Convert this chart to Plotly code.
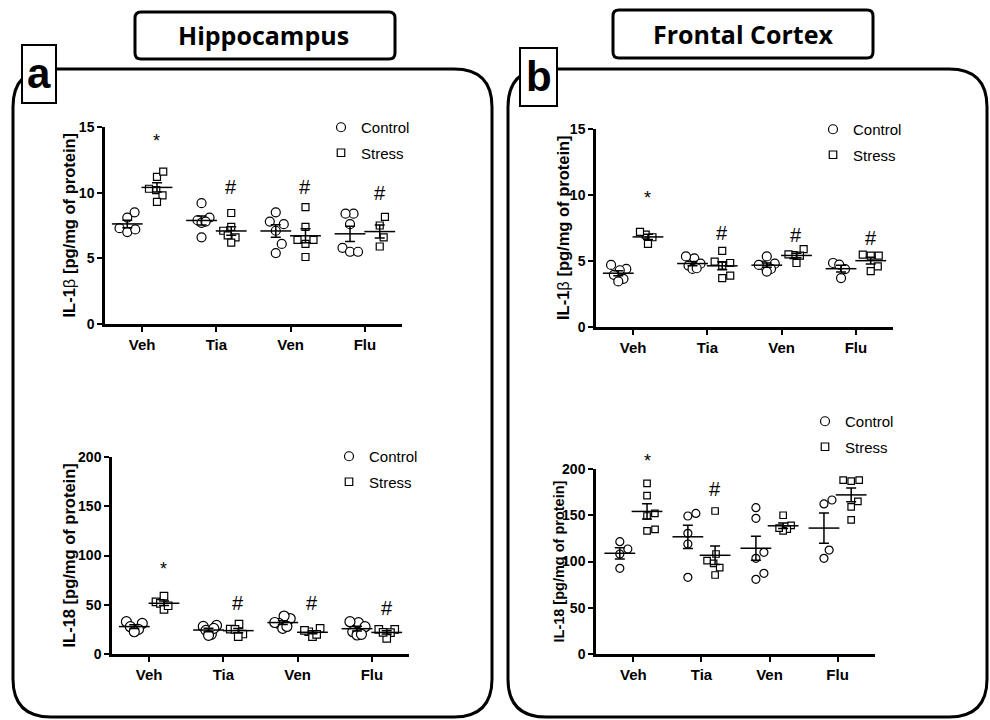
import math
import numpy as np
import plotly.graph_objects as go

# ---------------- data ----------------
categories = ["Veh", "Tia", "Ven", "Flu"]

hip_il1b_control = [[8.5, 8.1, 7.3, 7.0, 7.2],
                    [9.2, 8.1, 7.9, 7.7, 7.8, 6.6],
                    [8.5, 7.6, 7.8, 7.1, 6.1, 5.4],
                    [8.4, 8.4, 7.6, 5.8, 5.5, 5.5]]
hip_il1b_stress = [[11.2, 11.6, 10.2, 10.3, 9.8, 9.3],
                   [8.45, 7.4, 7.1, 6.75, 6.6, 6.2],
                   [8.9, 7.4, 6.4, 6.4, 6.1, 5.1],
                   [8.15, 7.5, 6.6, 5.9]]
hip_il1b_sig = ["*", "#", "#", "#"]
hip_il1b_sig_y = [13.9, 10.4, 10.4, 10.0]

hip_il18_control = [[31, 32.8, 25, 27.7, 22.6],
                    [28, 29, 20, 24, 26, 19],
                    [36, 38.5, 31, 32, 26, 28],
                    [31.8, 32.8, 27.7, 22.6, 19.3, 20]]
hip_il18_stress = [[58.8, 53, 51.4, 45.3, 49],
                   [30.4, 25.3, 25, 20.3, 17.6],
                   [22.6, 17.6, 26, 20, 24],
                   [25, 25, 21.6, 15.9, 22]]
hip_il18_sig = ["*", "#", "#", "#"]
hip_il18_sig_y = [86.8, 52, 51.4, 46.3]

fc_il1b_control = [[4.4, 4.7, 4.3, 3.95, 3.65, 3.45],
                   [5.2, 5.35, 4.8, 4.65, 4.4, 4.45],
                   [5.35, 4.8, 4.65, 4.4, 4.2, 4.7],
                   [4.85, 4.72, 4.39, 3.71]]
fc_il1b_stress = [[7.0, 7.2, 6.8, 6.3],
                  [5.76, 4.85, 4.95, 4.65, 3.71, 3.89],
                  [5.9, 5.4, 5.45, 4.85, 5.5],
                  [5.4, 5.48, 4.6, 4.24, 5.4]]
fc_il1b_sig = ["*", "#", "#", "#"]
fc_il1b_sig_y = [9.8, 7.1, 7.0, 6.75]

fc_il18_control = [[121.4, 113.5, 108.1, 92.6],
                   [149.2, 152, 130.5, 118.9, 82.9],
                   [158.2, 146.7, 109.9, 103.4, 87.2, 80.7],
                   [166.5, 162.2, 112.4, 103.4]]
fc_il18_stress = [[184.5, 171.2, 152, 149.2, 133, 134.8],
                  [154.6, 108.1, 100.9, 98, 93.3, 85.4],
                  [150, 139, 135, 133, 136],
                  [188, 188, 187, 165, 159, 145]]
fc_il18_sig = ["*", "#", "", ""]
fc_il18_sig_y = [208.6, 178, None, None]

W, H = 990, 720
def PX(x): return x / W
def PY(y): return 1 - y / H

panels = [
    dict(ctrl=hip_il1b_control, strs=hip_il1b_stress, sig=hip_il1b_sig, sigy=hip_il1b_sig_y,
         ymax=15, dtick=5, xpx=(105, 402), ypx=(127, 324), xr=(-0.5, 3.5),
         ytitle="<b>IL-1</b>β<b> [pg/mg of protein]</b>", tx=68, tsize=16.5,
         csize=9, ssize=7, legend_xy=(321, 111)),
    dict(ctrl=hip_il18_control, strs=hip_il18_stress, sig=hip_il18_sig, sigy=hip_il18_sig_y,
         ymax=200, dtick=50, xpx=(112, 409), ypx=(457, 654), xr=(-0.5, 3.5),
         ytitle="<b>IL-18 [pg/mg of protein]</b>", tx=68, tsize=16.5,
         csize=10, ssize=7.5, legend_xy=(329, 440)),
    dict(ctrl=fc_il1b_control, strs=fc_il1b_stress, sig=fc_il1b_sig, sigy=fc_il1b_sig_y,
         ymax=15, dtick=5, xpx=(596, 893), ypx=(129, 327), xr=(-0.5, 3.5),
         ytitle="<b>IL-1</b>β<b> [pg/mg of protein]</b>", tx=563, tsize=16.5,
         csize=9, ssize=7, legend_xy=(813, 113)),
    dict(ctrl=fc_il18_control, strs=fc_il18_stress, sig=fc_il18_sig, sigy=fc_il18_sig_y,
         ymax=200, dtick=50, xpx=(596, 875), ypx=(469, 654), xr=(-0.55, 3.55),
         ytitle="<b>IL-18 [pg/mg of protein]</b>", tx=558, tsize=14.5,
         csize=8, ssize=6.5, legend_xy=(805, 405)),
]

OFFSET = 0.2
MAX_HALF_SPREAD = 8.0   # px


def swarm(vals, ppu_x, ppu_y, diam):
    """Beeswarm layout in pixels, then squeezed to a maximum half-width."""
    order = sorted(range(len(vals)), key=lambda k: vals[k])
    placed = []
    offs = [0.0] * len(vals)
    for k in order:
        y = vals[k] * ppu_y
        cands = [0.0]
        for (px_, py_) in placed:
            dy = abs(y - py_)
            if dy < diam:
                dx = math.sqrt(diam ** 2 - dy ** 2)
                cands += [px_ + dx, px_ - dx]
        ok = [c for c in cands
              if all(math.hypot(c - px_, y - py_) >= diam - 1e-6 for (px_, py_) in placed)]
        best = min(ok, key=lambda c: (abs(c), -c))
        placed.append((best, y))
        offs[k] = best
    m = max(abs(o) for o in offs)
    if m > MAX_HALF_SPREAD:
        offs = [o * MAX_HALF_SPREAD / m for o in offs]
    return [o / ppu_x for o in offs]


fig = go.Figure()
layout_axes = {}
annotations = []
shapes = []
TICKFONT = "Liberation Sans, Arial"

for i, p in enumerate(panels, start=1):
    xa = "x" if i == 1 else f"x{i}"
    ya = "y" if i == 1 else f"y{i}"
    ppu_x = (p["xpx"][1] - p["xpx"][0]) / (p["xr"][1] - p["xr"][0])
    ppu_y = (p["ypx"][1] - p["ypx"][0]) / p["ymax"]
    leg = "legend" if i == 1 else f"legend{i}"

    for grp, (data, sign, sym, size) in enumerate([
            (p["ctrl"], -1, "circle", p["csize"]),
            (p["strs"], 1, "square", p["ssize"])]):
        xs, ys, mx, my, me = [], [], [], [], []
        for ci, vals in enumerate(data):
            jit = swarm(vals, ppu_x, ppu_y, max(1.3 * size, 10.0))
            base = ci + sign * OFFSET
            xs += [base + j for j in jit]
            ys += list(vals)
            arr = np.array(vals, dtype=float)
            mx.append(base)
            my.append(arr.mean())
            me.append(arr.std(ddof=1) / math.sqrt(len(arr)))
        fig.add_trace(go.Scatter(
            x=xs, y=ys, xaxis=xa, yaxis=ya, mode="markers", showlegend=False,
            cliponaxis=False, hoverinfo="skip",
            marker=dict(symbol=sym, size=size, color="white",
                        line=dict(color="black", width=1.2))))
        fig.add_trace(go.Scatter(
            x=mx, y=my, xaxis=xa, yaxis=ya, mode="markers", showlegend=False,
            cliponaxis=False, hoverinfo="skip",
            marker=dict(symbol="line-ew", size=22, color="black",
                        line=dict(color="black", width=1.5)),
            error_y=dict(type="data", array=me, color="black", thickness=1.5, width=5)))
        fig.add_trace(go.Scatter(
            x=[None], y=[None], xaxis=xa, yaxis=ya, mode="markers",
            name="Control" if grp == 0 else "Stress", legend=leg,
            legendgroup=f"{leg}_{grp}",
            marker=dict(symbol=sym, size=9 if grp == 0 else 7.5,
                        color="white", line=dict(color="black", width=1.2))))

    for ci, (s, sy) in enumerate(zip(p["sig"], p["sigy"])):
        if s:
            annotations.append(dict(
                x=ci + OFFSET, xref=xa, y=sy / p["ymax"], yref=f"{ya} domain",
                text=s, showarrow=False, xanchor="center", yanchor="middle",
                font=dict(family=TICKFONT, size=18 if s == "*" else 20, color="black")))

    layout_axes["xaxis" if i == 1 else f"xaxis{i}"] = dict(
        domain=[PX(p["xpx"][0]), PX(p["xpx"][1])], range=list(p["xr"]),
        anchor=ya, tickmode="array", tickvals=[0, 1, 2, 3], ticktext=categories,
        showline=True, linecolor="black", linewidth=2.5, ticks="outside",
        ticklen=5, tickwidth=2, tickcolor="black", showgrid=False, zeroline=False,
        tickfont=dict(family=TICKFONT, size=15, color="black", weight="bold"),
        automargin=False, fixedrange=True)
    layout_axes["yaxis" if i == 1 else f"yaxis{i}"] = dict(
        domain=[PY(p["ypx"][1]), PY(p["ypx"][0])], range=[0, p["ymax"]],
        anchor=xa, tickmode="linear", tick0=0, dtick=p["dtick"],
        showline=True, linecolor="black", linewidth=2.5, ticks="outside",
        ticklen=5, tickwidth=2, tickcolor="black", showgrid=False, zeroline=False,
        tickfont=dict(family=TICKFONT, size=14, color="black", weight="bold"),
        automargin=False, fixedrange=True)

    annotations.append(dict(
        x=PX(p["tx"]), y=PY((p["ypx"][0] + p["ypx"][1]) / 2), xref="paper", yref="paper",
        text=p["ytitle"], textangle=-90, showarrow=False, xanchor="center", yanchor="middle",
        font=dict(family=TICKFONT, size=p["tsize"], color="black")))

    layout_axes[leg] = dict(
        x=PX(p["legend_xy"][0]), y=PY(p["legend_xy"][1]), xanchor="left", yanchor="top",
        bgcolor="rgba(0,0,0,0)", borderwidth=0, tracegroupgap=3,
        font=dict(family=TICKFONT, size=15, color="black"),
        itemsizing="trace")


def rounded(x0, y0, x1, y1, r):
    pts = [("M", [(x0 + r, y0)]), ("L", [(x1 - r, y0)]), ("Q", [(x1, y0), (x1, y0 + r)]),
           ("L", [(x1, y1 - r)]), ("Q", [(x1, y1), (x1 - r, y1)]), ("L", [(x0 + r, y1)]),
           ("Q", [(x0, y1), (x0, y1 - r)]), ("L", [(x0, y0 + r)]), ("Q", [(x0, y0), (x0 + r, y0)])]
    s = ""
    for cmd, ps in pts:
        s += cmd + " " + " ".join(f"{PX(a):.5f},{PY(b):.5f}" for a, b in ps) + " "
    return s + "Z"


for (x0, x1) in [(13, 492), (508, 987)]:
    shapes.append(dict(type="path", xref="paper", yref="paper",
                       path=rounded(x0, 69, x1, 717, 38),
                       line=dict(color="black", width=3), layer="below"))
for (x0, x1, y0, y1) in [(135, 395, 12, 59), (613, 873, 10, 58)]:
    shapes.append(dict(type="path", xref="paper", yref="paper",
                       path=rounded(x0, y0, x1, y1, 6),
                       line=dict(color="black", width=3), layer="below"))
for (x0, x1, y0, y1) in [(22, 56, 45, 103), (520, 557, 48, 106)]:
    shapes.append(dict(type="rect", xref="paper", yref="paper",
                       x0=PX(x0), x1=PX(x1), y0=PY(y1), y1=PY(y0),
                       fillcolor="white", line=dict(color="black", width=2), layer="above"))

annotations += [
    dict(x=PX(263), y=PY(35), xref="paper", yref="paper", text="<b>Hippocampus</b>",
         showarrow=False, xanchor="center", yanchor="middle",
         font=dict(family="Open Sans", size=25, color="black")),
    dict(x=PX(743), y=PY(34), xref="paper", yref="paper", text="<b>Frontal Cortex</b>",
         showarrow=False, xanchor="center", yanchor="middle",
         font=dict(family="Open Sans", size=25, color="black")),
    dict(x=PX(39), y=PY(74), xref="paper", yref="paper", text="<b>a</b>",
         showarrow=False, xanchor="center", yanchor="middle",
         font=dict(family=TICKFONT, size=42, color="black")),
    dict(x=PX(538.5), y=PY(77), xref="paper", yref="paper", text="<b>b</b>",
         showarrow=False, xanchor="center", yanchor="middle",
         font=dict(family=TICKFONT, size=42, color="black")),
]

fig.update_layout(
    width=W, height=H, margin=dict(l=0, r=0, t=0, b=0, pad=0, autoexpand=False),
    paper_bgcolor="white", plot_bgcolor="white", hovermode=False,
    annotations=annotations, shapes=shapes, **layout_axes)

fig.write_html("out.html", config={"displayModeBar": False},
               post_script="document.body.style.margin='0';document.body.style.overflow='hidden';")
